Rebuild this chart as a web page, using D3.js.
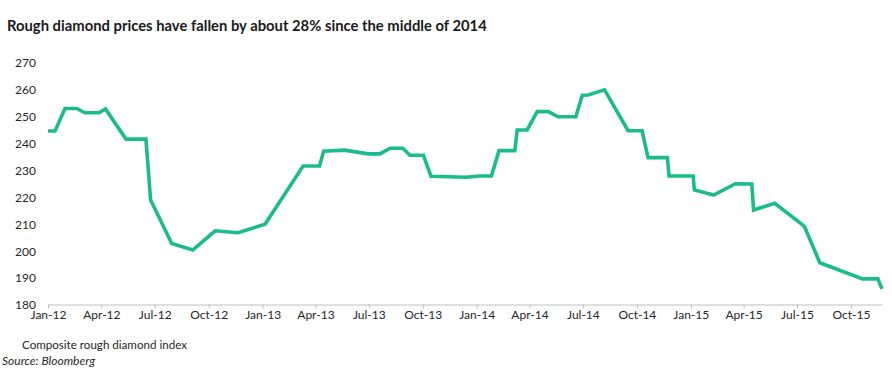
<!DOCTYPE html>
<html>
<head>
<meta charset="utf-8">
<script src="https://cdn.jsdelivr.net/npm/d3@7"></script>
<style>
  html, body { margin: 0; padding: 0; background: #fff; }
  svg { display: block; }
</style>
</head>
<body>
<svg id="chart" width="892" height="382"></svg>
<script>
// ---- data ----
const dates = [
  "2012-01-01","2012-01-13","2012-01-30","2012-02-19","2012-03-04","2012-03-28","2012-04-08",
  "2012-05-13","2012-06-16","2012-06-24","2012-07-30","2012-09-04","2012-10-12","2012-11-20",
  "2013-01-05","2013-03-11","2013-04-08","2013-04-15","2013-05-21","2013-06-30","2013-07-20",
  "2013-08-06","2013-08-28","2013-09-09","2013-10-02","2013-10-15","2013-12-14","2014-01-06",
  "2014-01-26","2014-02-08","2014-03-07","2014-03-11","2014-03-28","2014-04-14","2014-05-03",
  "2014-05-20","2014-06-19","2014-06-30","2014-07-10","2014-08-07","2014-09-16","2014-10-10",
  "2014-10-20","2014-11-22","2014-11-25","2015-01-05","2015-01-07","2015-02-09","2015-03-18",
  "2015-04-15","2015-04-18","2015-05-24","2015-07-09","2015-07-14","2015-08-09","2015-10-21",
  "2015-11-16","2015-11-23"
];
const indexValues = [
  244.7, 244.7, 253.1, 253.1, 251.5, 251.5, 252.9,
  241.7, 241.7, 219.0, 202.9, 200.5, 207.6, 206.9,
  210.0, 231.7, 231.7, 237.2, 237.6, 236.2, 236.2,
  238.3, 238.3, 235.7, 235.7, 227.9, 227.5, 228.0,
  228.0, 237.4, 237.4, 245.1, 245.1, 251.9, 251.9,
  250.0, 250.0, 258.0, 258.1, 260.0, 244.8, 244.8,
  234.8, 234.8, 228.0, 228.0, 222.8, 220.9, 225.1,
  225.0, 215.3, 217.8, 210.1, 209.1, 195.7, 189.7,
  189.7, 186.0
];
const yTicks = [180, 190, 200, 210, 220, 230, 240, 250, 260, 270];
const xTickDates = ["2012-01-01","2012-04-01","2012-07-01","2012-10-01","2013-01-01","2013-04-01",
  "2013-07-01","2013-10-01","2014-01-01","2014-04-01","2014-07-01","2014-10-01","2015-01-01",
  "2015-04-01","2015-07-01","2015-10-01"];
const xTickLabels = ["Jan-12","Apr-12","Jul-12","Oct-12","Jan-13","Apr-13","Jul-13","Oct-13",
  "Jan-14","Apr-14","Jul-14","Oct-14","Jan-15","Apr-15","Jul-15","Oct-15"];
const titleText = "Rough diamond prices have fallen by about 28% since the middle of 2014";
const seriesName = "Composite rough diamond index";
const sourceText = "Source: Bloomberg";

// ---- drawing ----
const parse = d3.utcParse("%Y-%m-%d");
const data = dates.map((d, i) => ({ date: parse(d), value: indexValues[i] }));

const svg = d3.select("#chart");
const font = "Lato, 'Open Sans', sans-serif";
const textColor = "#262626";

const x = d3.scaleUtc()
  .domain([parse(dates[0]), parse(dates[dates.length - 1])])
  .range([48, 882]);
const y = d3.scaleLinear().domain([180, 270]).range([305, 63]);

// title
svg.append("text")
  .attr("x", 7).attr("y", 31)
  .attr("font-family", font).attr("font-weight", 700).attr("font-size", 14.8)
  .attr("fill", "#1a1a1a")
  .text(titleText);

// y axis labels (no line)
const yAxis = d3.axisLeft(y).tickValues(yTicks).tickSize(0).tickPadding(0);
const gy = svg.append("g").attr("transform", "translate(36,0)").call(yAxis);
gy.select(".domain").remove();
gy.selectAll("text")
  .attr("font-family", font).attr("font-size", 12).attr("fill", textColor);

// x axis
const xAxis = d3.axisBottom(x)
  .tickValues(xTickDates.map(parse))
  .tickFormat((d, i) => xTickLabels[i])
  .tickSizeInner(4).tickSizeOuter(0).tickPadding(2);
const gx = svg.append("g").attr("transform", "translate(0,304.5)").call(xAxis);
gx.select(".domain").attr("stroke", "#bfbfbf").attr("stroke-width", 1);
gx.selectAll(".tick line").attr("stroke", "#bfbfbf");
gx.selectAll("text")
  .attr("font-family", font).attr("font-size", 12).attr("fill", textColor);

// line
const line = d3.line().x(d => x(d.date)).y(d => y(d.value));
svg.append("path")
  .datum(data)
  .attr("d", line)
  .attr("fill", "none")
  .attr("stroke", "#1bbc8c")
  .attr("stroke-width", 3.6)
  .attr("stroke-linejoin", "miter")
  .attr("stroke-linecap", "butt");

// legend label
svg.append("text")
  .attr("x", 22).attr("y", 349)
  .attr("font-family", font).attr("font-size", 11.6).attr("fill", textColor)
  .text(seriesName);

// source
svg.append("text")
  .attr("x", 2).attr("y", 365)
  .attr("font-family", font).attr("font-size", 12).attr("font-style", "italic")
  .attr("fill", textColor)
  .text(sourceText);
</script>
</body>
</html>
